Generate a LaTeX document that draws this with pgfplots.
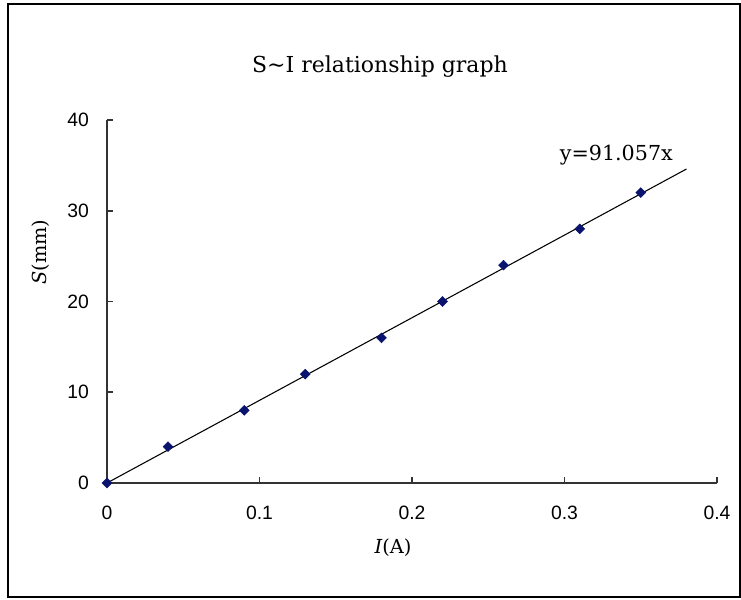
\documentclass[border=0pt]{standalone}
\usepackage{pgfplots}
\pgfplotsset{compat=1.18}
\usepackage{fontspec}
\setmainfont{Liberation Sans}
\newfontfamily\serif{DejaVu Serif}
\definecolor{navymark}{RGB}{10,20,110}

\begin{document}
\begin{tikzpicture}[x=0.75pt,y=0.75pt]
% picture size: 741 x 599 px, axis origin at (107,483) px
\path[use as bounding box] (-107,-116) rectangle (634,483);
\draw[line width=1.5pt] (-99,-114) rectangle (633,479);

\begin{axis}[
    at={(0,0)}, anchor=origin,
    scale only axis,
    width=457.5pt, height=272.25pt,
    xmin=0, xmax=0.4,
    ymin=0, ymax=40,
    xtick={0,0.1,0.2,0.3,0.4},
    ytick={0,10,20,30,40},
    xticklabels={0,0.1,0.2,0.3,0.4},
    axis x line*=bottom,
    axis y line*=left,
    axis line style={line width=1.3pt, black!80},
    tick align=inside,
    major tick length=4.5pt,
    tick style={line width=1.3pt, black!80},
    ticklabel style={font=\fontsize{14.5}{16}\selectfont},
    /pgf/number format/assume math mode=true,
    xticklabel style={yshift=-14pt},
    yticklabel style={xshift=-10pt},
    clip=false,
]
% trendline y = 91.057x
\addplot[black, line width=0.8pt] coordinates {(0,0) (0.38,34.6017)};
\addplot[only marks, mark=square*, mark size=2.6pt, mark options={rotate=45}, navymark] coordinates {
    (0,0) (0.04,4) (0.09,8) (0.13,12) (0.18,16)
    (0.22,20) (0.26,24) (0.31,28) (0.35,32)
};
\node[font=\serif\fontsize{15.5}{18}\selectfont] at (axis cs:0.334,36.1) {y=91.057x};
\end{axis}

\node[font=\serif\fontsize{16.5}{20}\selectfont] at (273,416) {S\textasciitilde I relationship graph};
\node[font=\serif\fontsize{14.5}{16}\selectfont, rotate=90] at (-66,231) {\textit{S}(mm)};
\node[font=\serif\fontsize{14.5}{16}\selectfont] at (286,-65) {\textit{I}(A)};
\end{tikzpicture}
\end{document}
